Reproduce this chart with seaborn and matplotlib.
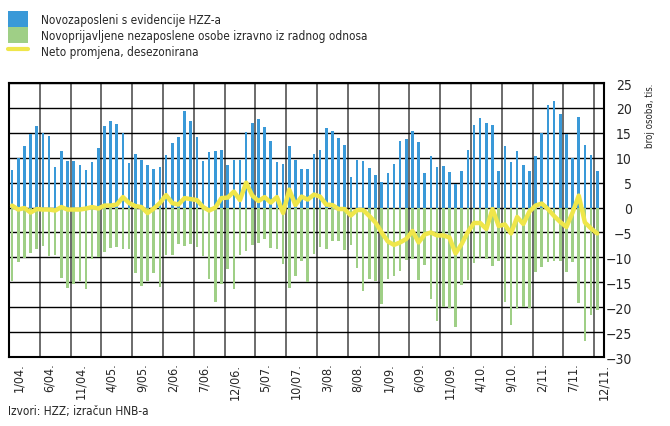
import pandas as pd
import numpy as np
import matplotlib.pyplot as plt
import seaborn as sns
from matplotlib.patches import Patch
from matplotlib.lines import Line2D

# mjesecni podaci 1/2004 - 12/2011, tisuce osoba
novozaposleni = [
    7.6, 10.0, 12.4, 14.8, 16.4, 14.9, 14.4, 8.2, 11.3, 9.4, 9.4, 8.6,
    7.6, 9.2, 12.0, 16.4, 17.3, 16.8, 15.0, 9.0, 10.8, 9.6, 8.6, 7.7,
    8.2, 10.5, 13.0, 14.1, 19.3, 17.3, 14.1, 9.4, 11.1, 11.3, 11.6, 8.6,
    9.6, 9.6, 15.1, 16.9, 17.8, 16.1, 13.4, 9.2, 8.8, 12.3, 9.6, 7.8,
    7.8, 10.7, 11.6, 15.9, 15.4, 13.9, 12.5, 6.1, 9.6, 9.4, 7.9, 6.6,
    5.1, 7.0, 8.7, 13.3, 13.8, 15.4, 13.1, 7.0, 10.3, 8.2, 8.3, 7.2,
    4.7, 7.4, 11.6, 16.6, 18.0, 16.9, 16.6, 7.3, 12.4, 9.2, 11.4, 8.6,
    7.4, 10.3, 14.9, 20.6, 21.3, 18.8, 14.8, 9.9, 18.2, 12.5, 10.5, 7.4,
]

novoprijavljeni = [
    -14.8, -11.0, -10.2, -9.2, -8.3, -7.8, -9.7, -9.5, -14.1, -16.2, -15.3, -14.8,
    -16.4, -10.3, -10.0, -9.0, -8.2, -8.0, -8.4, -8.4, -13.1, -15.7, -14.8, -13.2,
    -16.0, -9.6, -9.6, -7.4, -7.8, -7.3, -8.0, -9.8, -14.4, -18.9, -15.4, -12.4,
    -16.4, -9.6, -8.8, -7.6, -7.2, -6.4, -8.2, -8.4, -11.3, -16.2, -13.8, -10.8,
    -15.0, -9.4, -8.0, -8.4, -6.8, -6.8, -8.6, -7.6, -12.2, -16.8, -14.3, -14.8,
    -19.3, -14.3, -13.8, -12.8, -10.6, -10.4, -14.5, -11.6, -18.3, -22.7, -20.0, -20.2,
    -24.0, -15.6, -14.5, -11.2, -10.2, -10.3, -11.8, -10.7, -18.9, -23.5, -20.3, -20.0,
    -20.1, -13.0, -12.0, -11.0, -10.8, -10.8, -13.0, -10.9, -19.2, -26.8, -21.5, -20.5,
]

neto = [
    0.4, -0.4, -0.1, -1.0, -0.3, -0.4, -0.4, -0.6, 0.1, -0.4, -0.4, -0.4,
    -0.2, 0.1, -0.2, 0.4, 0.4, 0.6, 2.1, 0.9, 0.3, 0.1, -1.1, -0.2,
    0.9, 2.5, 0.9, 0.6, 1.9, 1.7, 1.5, 0.1, -0.6, 0.0, 1.9, 2.0,
    3.2, 1.5, 5.0, 2.4, 1.3, 2.1, 1.0, 2.1, -1.1, 3.6, 0.5, 2.2,
    1.6, 2.6, 2.2, 0.6, 0.5, -0.3, -0.3, -1.6, -0.5, -0.5, -1.7, -3.0,
    -5.0, -6.8, -7.5, -7.0, -6.3, -4.7, -7.0, -5.4, -5.0, -5.6, -5.6, -6.0,
    -9.2, -7.3, -4.9, -3.1, -3.1, -4.3, -0.3, -3.7, -3.4, -5.2, -1.9, -3.3,
    -0.8, 0.4, 0.8, -0.3, -1.7, -2.9, -3.9, -1.0, 2.4, -3.0, -4.2, -5.2,
]

oznake_x = [
    "1/04.", "6/04.", "11/04.", "4/05.", "9/05.", "2/06.", "7/06.",
    "12/06.", "5/07.", "10/07.", "3/08.", "8/08.", "1/09.", "6/09.",
    "11/09.", "4/10.", "9/10.", "2/11.", "7/11.", "12/11.",
]

oznake_leg = [
    "Novozaposleni s evidencije HZZ-a",
    "Novoprijavljene nezaposlene osobe izravno iz radnog odnosa",
    "Neto promjena, desezonirana",
]

PLAVA = "#3a99d8"
ZELENA = "#9fcf86"
ZUTA = "#efe64a"

df = pd.DataFrame({
    "mjesec": np.arange(len(neto)),
    "novozaposleni": novozaposleni,
    "novoprijavljeni": novoprijavljeni,
    "neto": neto,
})

sns.set_style("white")
plt.rcParams["font.family"] = ["DejaVu Sans"]
plt.rcParams["font.stretch"] = "condensed"

fig = plt.figure(figsize=(6.7, 4.27), dpi=100)
ax = fig.add_axes([9 / 670, 1 - 358 / 427, 595 / 670, 274 / 427])
ax.set_axisbelow(True)

sns.barplot(data=df, x="mjesec", y="novozaposleni", native_scale=True,
            color=PLAVA, saturation=1, width=0.42, linewidth=0,
            ax=ax, zorder=2)
sns.barplot(data=df, x="mjesec", y="novoprijavljeni", native_scale=True,
            color=ZELENA, saturation=1, width=0.42, linewidth=0,
            ax=ax, zorder=2)
sns.lineplot(data=df, x="mjesec", y="neto", color=ZUTA, linewidth=3.2,
             ax=ax, zorder=4)

ax.set_xlim(-0.5, 95.5)
ax.set_ylim(-30, 25)

poz = np.arange(0, 96, 5)
ax.set_xticks(poz - 0.5, minor=True)
ax.set_xticks(poz + 1.1)
ax.set_xticklabels(oznake_x, rotation=90, fontsize=9)
ax.xaxis.grid(False, which="major")
ax.xaxis.grid(True, which="minor", color="#606060", linewidth=1.3)

ax.set_yticks(np.arange(-30, 26, 5))
ax.yaxis.tick_right()
ax.yaxis.grid(True, color="black", linewidth=1.0)
ax.tick_params(axis="y", pad=20, labelsize=10, length=0)
ax.tick_params(axis="x", which="both", length=0, pad=4)
plt.setp(ax.get_yticklabels(), ha="right")

ax.set_xlabel("")
ax.set_ylabel("")

for s in ax.spines.values():
    s.set_visible(True)
    s.set_color("black")
    s.set_linewidth(1.5)

rucke = [
    Patch(facecolor=PLAVA, edgecolor="none"),
    Patch(facecolor=ZELENA, edgecolor="none"),
    Line2D([], [], color=ZUTA, linewidth=3),
]
fig.legend(rucke, oznake_leg, loc="upper left",
           bbox_to_anchor=(8 / 670, 1 - 12 / 427), frameon=False,
           fontsize=8.5, handlelength=1.7, handleheight=1.7,
           labelspacing=0.0, handletextpad=1.1,
           borderpad=0, borderaxespad=0)

fig.text(650 / 670, 1 - 84 / 427, "broj osoba, tis.", rotation=90,
         va="top", ha="center", fontsize=7)
fig.text(8 / 670, 1 - 412 / 427, "Izvori: HZZ; izračun HNB-a",
         fontsize=8.5, va="center", ha="left")

fig.savefig("out.png", dpi=100)
